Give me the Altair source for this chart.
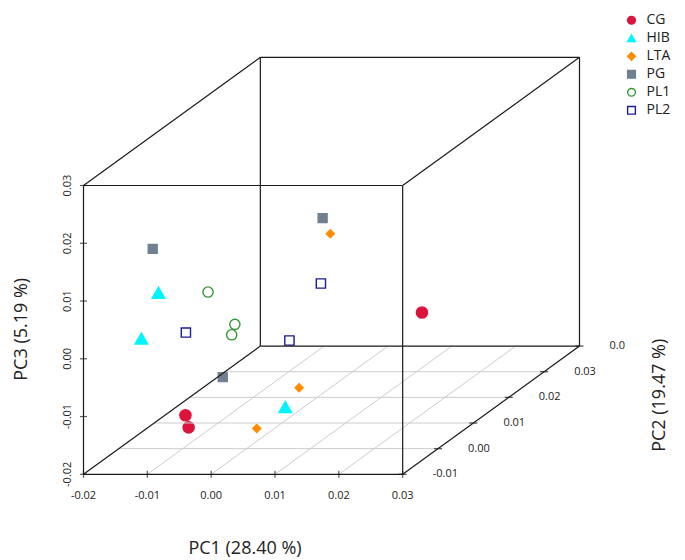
import itertools
import altair as alt
import pandas as pd

# ---- data (PCA scores) ----
groups = ["CG", "CG", "CG", "HIB", "HIB", "HIB", "LTA", "LTA", "LTA",
          "PG", "PG", "PG", "PL1", "PL1", "PL1", "PL2", "PL2", "PL2"]
pc1 = [-0.0068, -0.0063, 0.0164, -0.0138, -0.0137, 0.0033, -0.0035, 0.0027, 0.0016,
       -0.0147, -0.0047, -0.0148, -0.0088, -0.0046, -0.0051, -0.0022, -0.0095, -0.0099]
pc2 = [-0.005, -0.005, 0.020, 0.000, -0.005, 0.005, 0.030, 0.010, 0.000,
       0.000, 0.030, 0.020, 0.005, 0.005, 0.005, 0.025, 0.000, 0.030]
pc3 = [-0.0120, -0.0141, -0.0053, 0.0070, 0.0013, -0.0150, 0.0039, -0.0139, -0.0165,
       0.0146, 0.0066, -0.0165, 0.0049, -0.0007, -0.0025, -0.0025, 0.0001, -0.0146]

group_names = ["CG", "HIB", "LTA", "PG", "PL1", "PL2"]
group_colors = ["#DC143C", "#00F5FF", "#FF8C00", "#708090", "#339933", "#1C1C96"]
group_fills = ["#DC143C", "#00F5FF", "#FF8C00", "#708090", "transparent", "transparent"]
group_shapes = ["circle", "triangle-up", "diamond", "square", "circle", "square"]
group_sizes = [125, 160, 64, 80, 105, 85]

pc1_ticks = [-0.02, -0.01, 0.0, 0.01, 0.02, 0.03]
pc1_labels = ["-0.02", "-0.01", "0.00", "0.01", "0.02", "0.03"]
pc2_ticks = [-0.01, 0.0, 0.01, 0.02, 0.03, 0.04]
pc2_labels = ["-0.01", "0.00", "0.01", "0.02", "0.03", "0.0"]
pc3_ticks = [-0.02, -0.01, 0.0, 0.01, 0.02, 0.03]
pc3_labels = ["-0.02", "-0.01", "0.00", "0.01", "0.02", "0.03"]

title1 = "PC1 (28.40 %)"
title2 = "PC2 (19.47 %)"
title3 = "PC3 (5.19 %)"

# ---- oblique projection parameters ----
P1 = (-0.02, 0.03)
P2 = (-0.01, 0.04)
P3 = (-0.02, 0.03)
SHEAR_X = 0.0277   # PC1-units shift for full PC2 depth
SHEAR_Y = 0.0222   # PC3-units shift for full PC2 depth
W, H = 496, 417
INK = "#222222"

xscale = alt.Scale(domain=[P1[0], P1[1] + SHEAR_X], nice=False, zero=False)
yscale = alt.Scale(domain=[P3[0], P3[1] + SHEAR_Y], nice=False, zero=False)


def px(a, b):
    return f"datum.{a} + (datum.{b} - ({P2[0]})) / {P2[1] - P2[0]} * {SHEAR_X}"


def py(c, b):
    return f"datum.{c} + (datum.{b} - ({P2[0]})) / {P2[1] - P2[0]} * {SHEAR_Y}"


def X(f):
    return alt.X(f, type="quantitative", scale=xscale, axis=None)


def Y(f):
    return alt.Y(f, type="quantitative", scale=yscale, axis=None)


# ---- box edges and floor grid built from the axis ranges ----
corners = list(itertools.product(P1, P2, P3))
edges = []
for i, p in enumerate(corners):
    for q in corners[i + 1:]:
        if sum(1 for u, v in zip(p, q) if u != v) == 1:
            edges.append(dict(a1=p[0], b1=p[1], c1=p[2], a2=q[0], b2=q[1], c2=q[2]))
edges_df = pd.DataFrame(edges)

grid = []
for v in pc1_ticks[1:-1]:
    grid.append(dict(a1=v, b1=P2[0], c1=P3[0], a2=v, b2=P2[1], c2=P3[0]))
for w in pc2_ticks[1:-1]:
    grid.append(dict(a1=P1[0], b1=w, c1=P3[0], a2=P1[1], b2=w, c2=P3[0]))
grid_df = pd.DataFrame(grid)


def segments(df, color, width):
    return alt.Chart(df).mark_rule(color=color, strokeWidth=width).transform_calculate(
        sx1=px("a1", "b1"), sy1=py("c1", "b1"), sx2=px("a2", "b2"), sy2=py("c2", "b2")
    ).encode(x=X("sx1"), y=Y("sy1"), x2="sx2:Q", y2="sy2:Q")


grid_layer = segments(grid_df, "#CCCCCC", 1)
box_layer = segments(edges_df, "#1A1A1A", 1.2)

# PC1 axis (front bottom edge)
d1 = pd.DataFrame({"a": pc1_ticks, "c": P3[0], "lab": pc1_labels})
t1 = alt.Chart(d1).mark_tick(orient="vertical", size=7, thickness=1.2, color="#1A1A1A").encode(
    x=X("a"), y=Y("c"))
l1 = alt.Chart(d1).mark_text(align="center", baseline="middle", yOffset=22, fontSize=11,
                             color=INK).encode(x=X("a"), y=Y("c"), text="lab:N")

# PC3 axis (front left edge)
d3 = pd.DataFrame({"a": P1[0], "c": pc3_ticks, "lab": pc3_labels})
t3 = alt.Chart(d3).mark_tick(orient="horizontal", size=7, thickness=1.2, color="#1A1A1A").encode(
    x=X("a"), y=Y("c"))
l3 = alt.Chart(d3).mark_text(align="center", baseline="middle", angle=270, xOffset=-16,
                             fontSize=11, color=INK).encode(x=X("a"), y=Y("c"), text="lab:N")

# PC2 axis (bottom right depth edge)
d2 = pd.DataFrame({"a": P1[1], "b": pc2_ticks, "c": P3[0], "lab": pc2_labels})
t2 = alt.Chart(d2).mark_tick(orient="horizontal", size=8, thickness=1.4, color="#1A1A1A").transform_calculate(
    sx=px("a", "b"), sy=py("c", "b")).encode(x=X("sx"), y=Y("sy"))
l2 = alt.Chart(d2).mark_text(align="left", baseline="middle", dx=30, fontSize=11,
                             color=INK).transform_calculate(
    sx=px("a", "b"), sy=py("c", "b")).encode(x=X("sx"), y=Y("sy"), text="lab:N")

# axis titles
tt1 = alt.Chart(pd.DataFrame({"t": [title1]})).mark_text(
    fontSize=18, color=INK, align="center", baseline="middle").encode(
    text="t:N", x=alt.value(161.5), y=alt.value(491.5))
tt2 = alt.Chart(pd.DataFrame({"t": [title2]})).mark_text(
    angle=270, fontSize=18, color=INK, align="center", baseline="middle").encode(
    text="t:N", x=alt.value(576.5), y=alt.value(338))
tt3 = alt.Chart(pd.DataFrame({"t": [title3]})).mark_text(
    angle=270, fontSize=18, color=INK, align="center", baseline="middle").encode(
    text="t:N", x=alt.value(-62), y=alt.value(272))

# points: one layer per group (own symbol size), one shared legend
pts_df = pd.DataFrame({"group": groups, "pc1": pc1, "pc2": pc2, "pc3": pc3})
shape_enc = alt.Shape("group:N", scale=alt.Scale(domain=group_names, range=group_shapes), title=None)
fill_enc = alt.Fill("group:N", scale=alt.Scale(domain=group_names, range=group_fills), title=None)
stroke_enc = alt.Stroke("group:N", scale=alt.Scale(domain=group_names, range=group_colors), title=None)

point_layers = []
for g, s in zip(group_names, group_sizes):
    point_layers.append(
        alt.Chart(pts_df).transform_filter(alt.datum.group == g).mark_point(
            filled=True, opacity=1, strokeWidth=1.4, size=s).transform_calculate(
            sx=px("pc1", "pc2"), sy=py("pc3", "pc2")
        ).encode(x=X("sx"), y=Y("sy"), shape=shape_enc, fill=fill_enc, stroke=stroke_enc)
    )

chart = alt.layer(*point_layers, grid_layer, box_layer, t1, t3, t2, l1, l3, l2, tt1, tt2, tt3).properties(
    width=W, height=H, autosize="none",
    padding={"left": 75.5, "top": 49.3, "right": 97.5, "bottom": 85},
    background="white",
).configure(font="Open Sans").configure_view(stroke=None).configure_legend(
    orient="none", legendX=541, legendY=-44, labelFontSize=14, labelColor=INK,
    symbolSize=60, symbolStrokeWidth=1.4, rowPadding=4, labelOffset=8,
)

chart.save("out.html", embed_options={"renderer": "svg", "actions": False})
